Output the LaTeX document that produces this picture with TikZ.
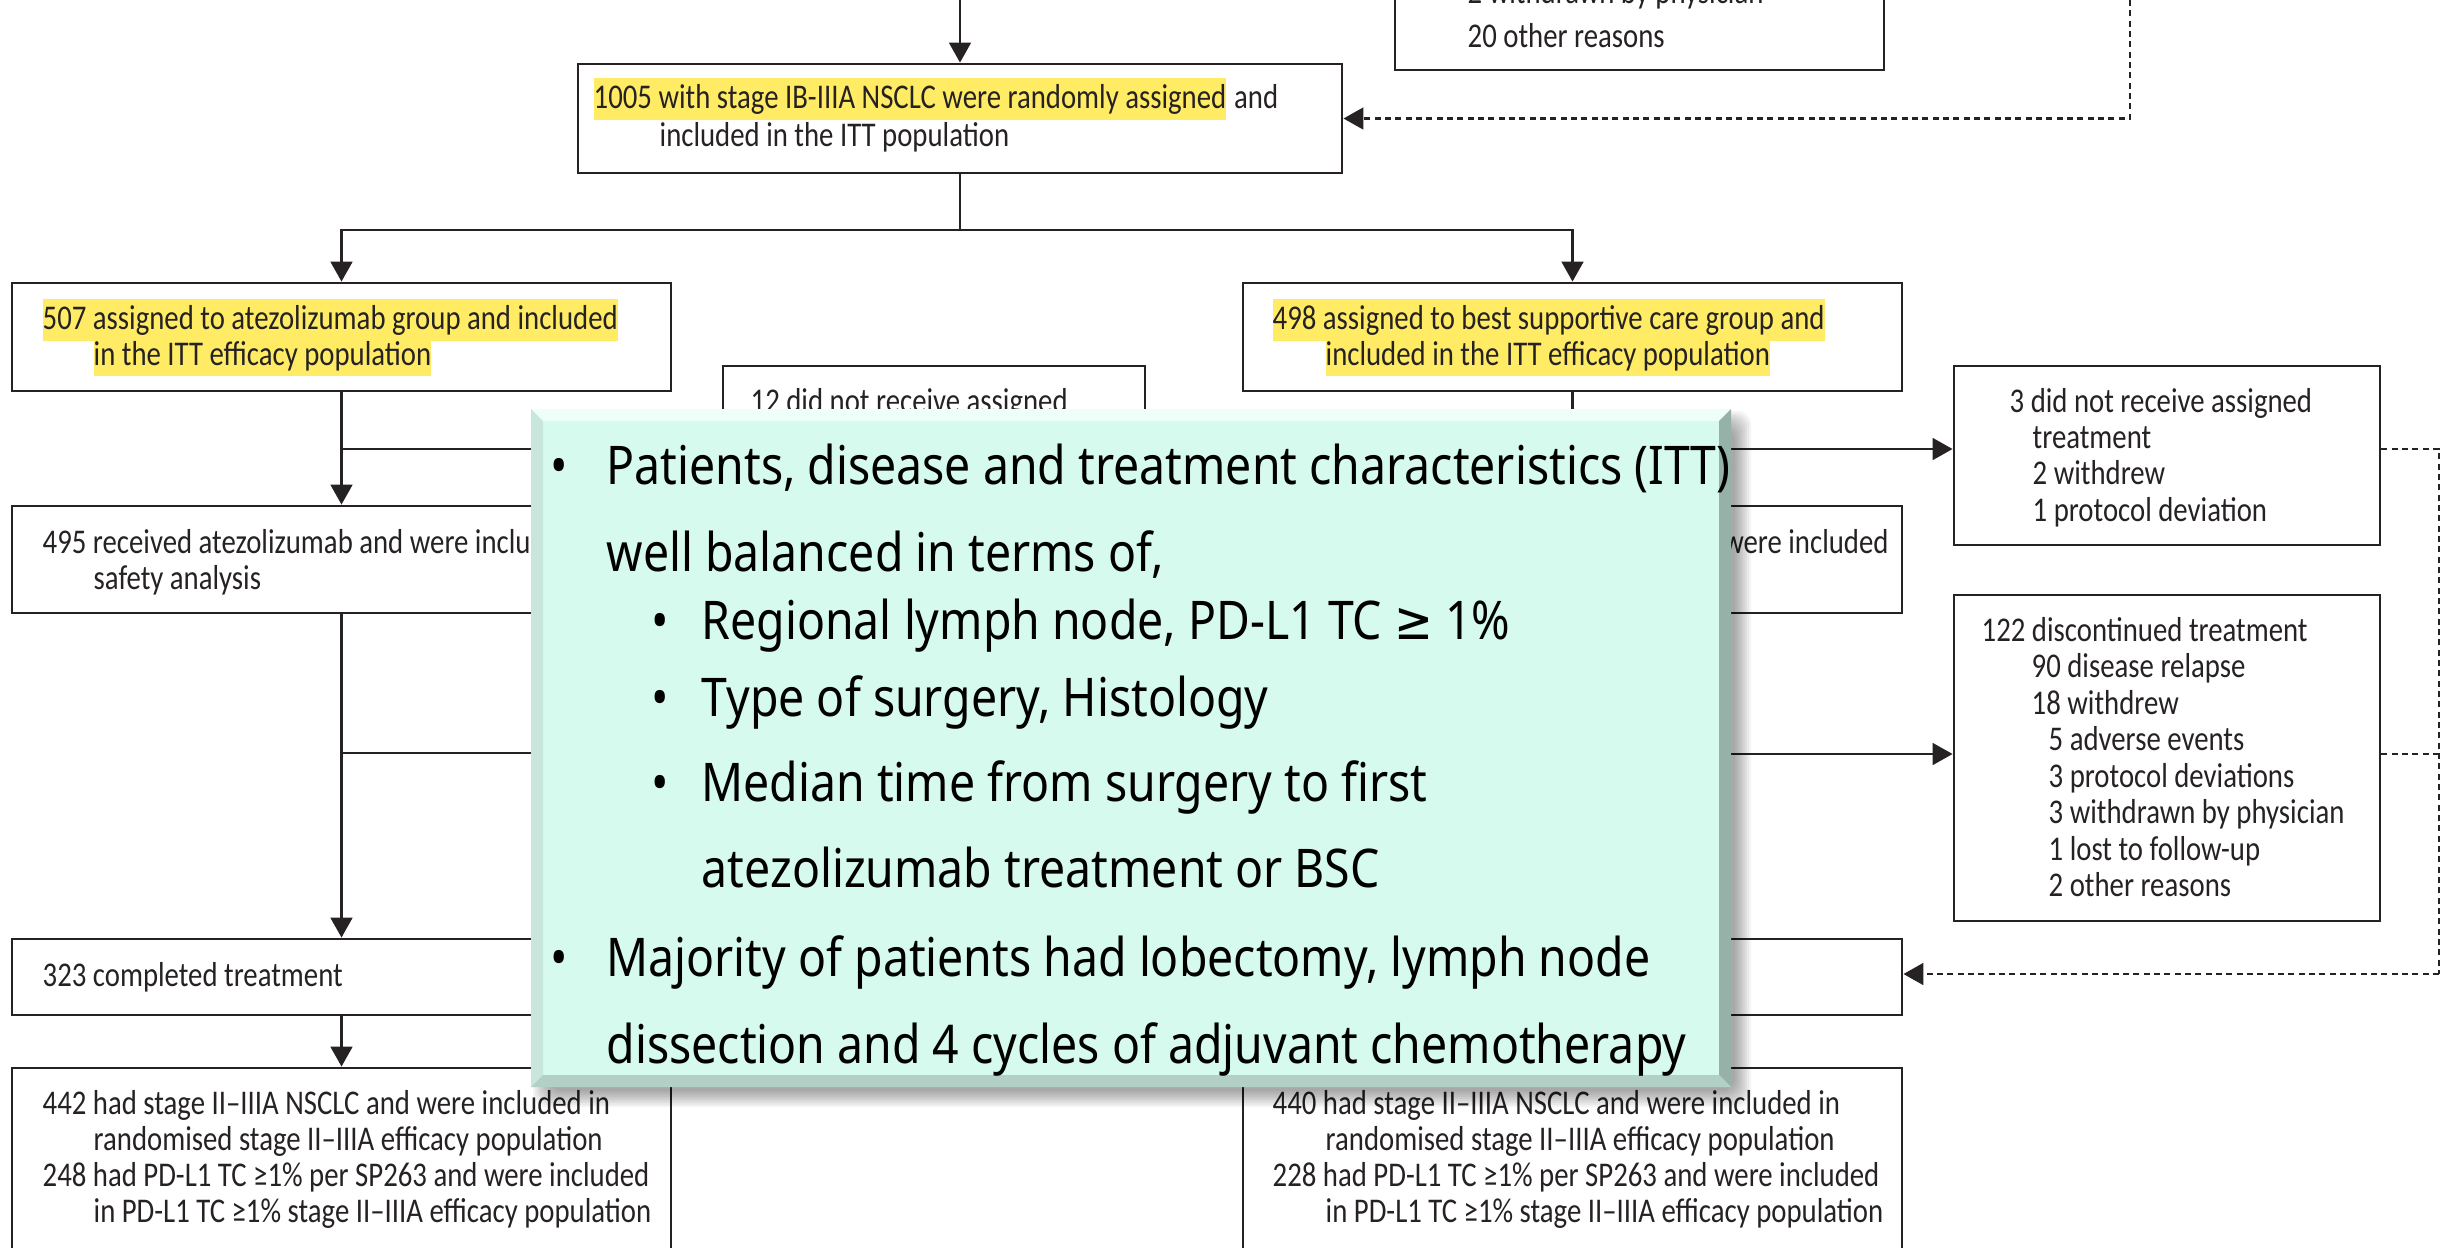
\documentclass[tikz,border=0pt]{standalone}
\usepackage{fontspec}
\setmainfont{Carlito}
\newfontfamily\boxfont[FakeStretch=0.83]{Carlito}
\newfontfamily\callfont[FakeStretch=0.87]{Noto Sans}
\newfontfamily\symfont[FakeStretch=0.87]{DejaVu Sans}
\usetikzlibrary{arrows.meta,fit,calc}
\definecolor{ink}{RGB}{38,34,35}
\definecolor{hl}{RGB}{255,236,100}
\definecolor{mint}{RGB}{214,250,237}
\definecolor{bvtop}{RGB}{238,255,249}
\definecolor{bvleft}{RGB}{200,230,219}
\definecolor{bvright}{RGB}{150,178,168}
\definecolor{bvbot}{RGB}{178,208,197}
\begin{document}
\begin{tikzpicture}[x=0.3pt,y=-0.3pt,
  box/.style={draw=ink, line width=0.85pt, fill=white, inner sep=0pt},
  txt/.style={anchor=base west, inner sep=0pt, font=\boxfont\fontsize{10.4}{12}\selectfont, text=ink},
  hltxt/.style={txt, fill=hl, inner ysep=1.7pt},
  conn/.style={draw=ink, line width=0.85pt},
  arr/.style={conn, -{Triangle[width=6.5pt,length=6pt]}},
  dsh/.style={conn, dash pattern=on 1.8pt off 1.3pt},
  ctxt/.style={anchor=base west, inner sep=0pt, font=\callfont\fontsize{16}{19}\selectfont, text=black},
]
\useasboundingbox (0,0) rectangle (2442,1247);
\clip (0,0) rectangle (2442,1247);
\fill[white] (0,0) rectangle (2442,1247);

% ---------- coordinates ----------
\coordinate (topin) at (960,0);
\coordinate (split) at (960,230);
\coordinate (dashtop) at (2130,0);
\coordinate (dr1) at (2439,449);
\coordinate (dr2) at (2439,974);
\coordinate (disca) at (723,753);

% ---------- boxes ----------
\node[box, fit={(578,64) (1342,173)}] (rand) {};
\node[box, fit={(1395,-60) (1884,70)}] (excl) {};
\node[box, fit={(12,283) (671,391)}] (itta) {};
\node[box, fit={(1243,283) (1902,391)}] (ittb) {};
\node[box, fit={(723,366) (1145,545)}] (nra) {};
\node[box, fit={(1954,366) (2380,545)}] (nrb) {};
\node[box, fit={(12,506) (671,613)}] (safa) {};
\node[box, fit={(1243,506) (1902,613)}] (safb) {};
\node[box, fit={(1954,595) (2380,921)}] (discb) {};
\node[box, fit={(12,939) (671,1015)}] (compa) {};
\node[box, fit={(1243,939) (1902,1015)}] (compb) {};
\node[box, fit={(12,1068) (671,1300)}] (stga) {};
\node[box, fit={(1243,1068) (1902,1300)}] (stgb) {};

% ---------- connectors ----------
\draw[arr] (topin) -- (rand.north);
\draw[conn] (rand.south) -- (split);
\draw[arr] (split) -| (itta.north);
\draw[arr] (split) -| (ittb.north);
\draw[arr] (itta.south) -- (safa.north);
\draw[arr] (itta.south |- 0,449) -- (nra.west |- 0,449);
\draw[arr] (safa.south) -- (compa.north);
\draw[arr] (safa.south |- 0,753) -- (disca);
\draw[arr] (compa.south) -- (stga.north);
\draw[arr] (ittb.south) -- (safb.north);
\draw[arr] (ittb.south |- 0,449) -- (nrb.west |- 0,449);
\draw[arr] (safb.south) -- (compb.north);
\draw[arr] (safb.south |- 0,754) -- (discb.west |- 0,754);
\draw[arr] (compb.south) -- (stgb.north);
\draw[dsh, -{Triangle[width=6.5pt,length=6pt]}] (dashtop) |- (rand.east);
\draw[dsh] (nrb.east |- dr1) -- (dr1) -- (dr2);
\draw[dsh, -{Triangle[width=6.5pt,length=6pt]}] (dr2) -- (compb.east |- dr2);
\draw[dsh] (discb.east |- 0,754) -- (dr1 |- 0,754);

% ---------- texts ----------
\node[hltxt] (r1) at (593,108) {1005 with stage IB-IIIA NSCLC were randomly assigned};
\node[txt] (r1b) at (r1.base east) {\ and};
\node[txt] (r2) at (659,146) {included in the ITT population};

\node[txt] (e0) at (1467,3) {2 withdrawn by physician};
\node[txt] (e1) at (1467,47) {20 other reasons};

\node[hltxt] (a1) at (42,329) {507 assigned to atezolizumab group and included\ };
\node[hltxt] (a2) at (93,365) {in the ITT efficacy population};
\node[hltxt] (b1) at (1272,329) {498 assigned to best supportive care group and};
\node[hltxt] (b2) at (1325,365) {included in the ITT efficacy population};

\node[txt] (na1) at (750,412) {12 did not receive assigned};

\node[txt] (nb1) at (2009,412) {3 did not receive assigned};
\node[txt] (nb2) at (2032,448) {treatment};
\node[txt] (nb3) at (2032,484) {2 withdrew};
\node[txt] (nb4) at (2032,521) {1 protocol deviation};

\node[txt] (sa1) at (42,553) {495 received atezolizumab and were included in};
\node[txt] (sa2) at (93,589) {safety analysis};
\node[txt] (sb1) at (1272,553) {495 received best supportive care and were included};
\node[txt] (sb2) at (1325,589) {in safety analysis};

\node[txt] (d1) at (1981,641) {122 discontinued treatment};
\node[txt] (d2) at (2031,677) {90 disease relapse};
\node[txt] (d3) at (2031,714) {18 withdrew};
\node[txt] (d4) at (2048,750) {5 adverse events};
\node[txt] (d5) at (2048,787) {3 protocol deviations};
\node[txt] (d6) at (2048,823) {3 withdrawn by physician};
\node[txt] (d7) at (2048,860) {1 lost to follow-up};
\node[txt] (d8) at (2048,896) {2 other reasons};

\node[txt] (ca1) at (42,986) {323 completed treatment};

\node[txt] (ga1) at (42,1114) {442 had stage II–IIIA NSCLC and were included in};
\node[txt] (ga2) at (93,1150) {randomised stage II–IIIA efficacy population};
\node[txt] (ga3) at (42,1186) {248 had PD-L1 TC ≥1\% per SP263 and were included};
\node[txt] (ga4) at (93,1222) {in PD-L1 TC ≥1\% stage II–IIIA efficacy population};
\node[txt] (gb1) at (1272,1114) {440 had stage II–IIIA NSCLC and were included in};
\node[txt] (gb2) at (1325,1150) {randomised stage II–IIIA efficacy population};
\node[txt] (gb3) at (1272,1186) {228 had PD-L1 TC ≥1\% per SP263 and were included};
\node[txt] (gb4) at (1325,1222) {in PD-L1 TC ≥1\% stage II–IIIA efficacy population};

% ---------- callout ----------
\foreach \r in {0,2,...,16}
  \fill[black, opacity=0.045, rounded corners=4pt] (533+\r,411+\r) rectangle (1751-\r,1107-\r);
\node[fill=mint, inner sep=0pt, fit={(531,409) (1731,1087)}] (call) {};
\fill[bvtop] (531,409) -- (1731,409) -- (1719,421) -- (543,421) -- cycle;
\fill[bvleft] (531,409) -- (543,421) -- (543,1075) -- (531,1087) -- cycle;
\fill[bvright] (1731,409) -- (1731,1087) -- (1719,1075) -- (1719,421) -- cycle;
\fill[bvbot] (531,1087) -- (1731,1087) -- (1719,1075) -- (543,1075) -- cycle;

\node[ctxt] (c0) at (550,484) {•};
\node[ctxt] (c1) at (606,484) {Patients, disease and treatment characteristics (ITT)};
\node[ctxt] (c2) at (606,571) {well balanced in terms of,};
\node[ctxt] (c3b) at (651,639) {•};
\node[ctxt] (c3) at (701,639) {Regional lymph node, PD-L1 TC {\symfont ≥} 1\%};
\node[ctxt] (c4b) at (651,716) {•};
\node[ctxt] (c4) at (701,716) {Type of surgery, Histology};
\node[ctxt] (c5b) at (651,801) {•};
\node[ctxt] (c5) at (701,801) {Median time from surgery to first};
\node[ctxt] (c6) at (701,887) {atezolizumab treatment or BSC};
\node[ctxt] (c7b) at (550,976) {•};
\node[ctxt] (c7) at (606,976) {Majority of patients had lobectomy, lymph node};
\node[ctxt] (c8) at (606,1063) {dissection and 4 cycles of adjuvant chemotherapy};
\end{tikzpicture}
\end{document}
